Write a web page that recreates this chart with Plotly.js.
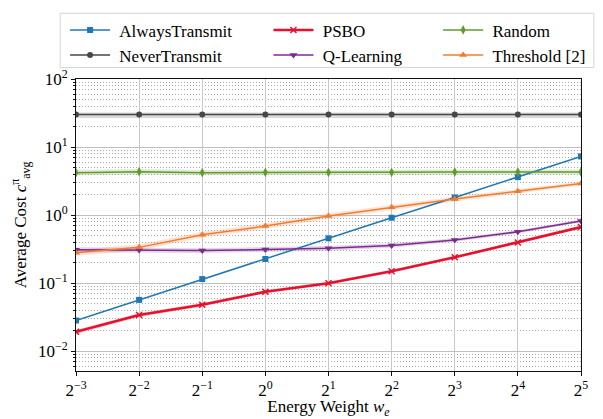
<!DOCTYPE html>
<html>
<head>
<meta charset="utf-8">
<script src="https://cdn.plot.ly/plotly-3.0.1.min.js"></script>
</head>
<body style="margin:0">
<div id="chart"></div>
<script>
// ---- data ----
const energyWeights = [0.125, 0.25, 0.5, 1, 2, 4, 8, 16, 32];
const xTickText = ['2<sup>\u22123</sup>','2<sup>\u22122</sup>','2<sup>\u22121</sup>','2<sup>0</sup>','2<sup>1</sup>','2<sup>2</sup>','2<sup>3</sup>','2<sup>4</sup>','2<sup>5</sup>'];
const yTickVals = [0.01, 0.1, 1, 10, 100];
const yTickText = ['10<sup>\u22122</sup>','10<sup>\u22121</sup>','10<sup>0</sup>','10<sup>1</sup>','10<sup>2</sup>'];

const alwaysTransmit = [0.0283, 0.0569, 0.115, 0.227, 0.456, 0.916, 1.82, 3.62, 7.28];
const neverTransmit  = [30.0, 30.0, 30.0, 30.0, 30.0, 30.0, 30.0, 30.0, 30.0];
const neverLo        = [26.8, 26.8, 26.8, 26.8, 26.8, 26.8, 26.8, 26.8, 26.8];
const neverHi        = [32.2, 32.2, 32.2, 32.2, 32.2, 32.2, 32.2, 32.2, 32.2];
const psbo           = [0.0193, 0.0340, 0.0483, 0.0747, 0.100, 0.150, 0.240, 0.396, 0.668];
const psboLo         = [0.0180, 0.0318, 0.0455, 0.0710, 0.0955, 0.143, 0.230, 0.380, 0.640];
const psboHi         = [0.0206, 0.0362, 0.0510, 0.0785, 0.105, 0.157, 0.250, 0.412, 0.695];
const qLearning      = [0.311, 0.308, 0.301, 0.313, 0.325, 0.359, 0.431, 0.568, 0.822];
const qLo            = [0.285, 0.283, 0.277, 0.288, 0.300, 0.333, 0.405, 0.537, 0.785];
const qHi            = [0.338, 0.334, 0.326, 0.339, 0.351, 0.386, 0.458, 0.600, 0.860];
const random         = [4.20, 4.35, 4.20, 4.25, 4.25, 4.25, 4.30, 4.30, 4.30];
const randomLo       = [3.85, 3.95, 3.85, 3.90, 3.90, 3.90, 3.95, 3.95, 3.95];
const randomHi       = [4.60, 4.75, 4.60, 4.65, 4.65, 4.65, 4.70, 4.70, 4.70];
const threshold      = [0.279, 0.336, 0.514, 0.690, 0.968, 1.30, 1.73, 2.24, 2.91];
const thresholdLo    = [0.252, 0.303, 0.465, 0.625, 0.880, 1.19, 1.59, 2.07, 2.70];
const thresholdHi    = [0.308, 0.372, 0.568, 0.762, 1.065, 1.42, 1.88, 2.42, 3.13];

const C = {
  blue: '#1f77b4', gray: '#474747', red: '#e8112d',
  purple: '#7b2d8e', green: '#5f9b2c', orange: '#f07c30'
};

function band(lo, hi, fill) {
  return [
    {x: energyWeights, y: lo, mode: 'lines', line: {width: 0, color: fill}, showlegend: false, hoverinfo: 'skip'},
    {x: energyWeights, y: hi, mode: 'lines', line: {width: 0, color: fill}, fill: 'tonexty', fillcolor: fill, showlegend: false, hoverinfo: 'skip'}
  ];
}
function series(name, y, color, width, symbol, size, legend) {
  return {x: energyWeights, y: y, name: '\u00a0' + name, mode: 'lines+markers', legend: legend,
    line: {color: color, width: width},
    marker: {color: color, symbol: symbol, size: size, line: {width: symbol === 'x-thin' ? 1.5 : 0, color: color}}};
}

const traces = [].concat(
  band(neverLo, neverHi, 'rgba(71,71,71,0.2)'),
  band(randomLo, randomHi, 'rgba(95,155,44,0.2)'),
  band(thresholdLo, thresholdHi, 'rgba(240,124,48,0.2)'),
  band(qLo, qHi, 'rgba(123,45,142,0.2)'),
  band(psboLo, psboHi, 'rgba(232,17,45,0.2)'),
  [
    series('AlwaysTransmit', alwaysTransmit, C.blue, 1.5, 'square', 6, 'legend'),
    series('NeverTransmit', neverTransmit, C.gray, 1.5, 'circle', 6, 'legend'),
    series('PSBO', psbo, C.red, 2.6, 'x-thin', 6, 'legend2'),
    series('Q-Learning', qLearning, C.purple, 1.5, 'triangle-down', 7, 'legend2'),
    series('Random', random, C.green, 1.5, 'diamond-tall', 7, 'legend3'),
    series('Threshold [2]', threshold, C.orange, 1.5, 'triangle-up', 7, 'legend3')
  ]
);

const FAM = 'Liberation Serif';
function F() { return {family: FAM, size: 17, color: '#000'}; }
function leg(x) {
  return {orientation: 'v', traceorder: 'normal', bgcolor: 'rgba(0,0,0,0)', borderwidth: 0, itemwidth: 40,
    font: F(), yanchor: 'top', xanchor: 'left', y: 1.228, x: x};
}

const minorVals = [];
for (let e = -3; e <= 1; e++) for (let m = 2; m <= 9; m++) minorVals.push(m * Math.pow(10, e));

const layout = {
  width: 603, height: 419,
  margin: {l: 76, r: 18, t: 69, b: 48},
  font: F(),
  xaxis: {
    type: 'log', range: [Math.log10(0.125), Math.log10(32)],
    tickmode: 'array', tickvals: energyWeights, ticktext: xTickText,
    ticks: 'outside', ticklen: 4, tickcolor: '#111',
    tickfont: F(),
    showgrid: true, gridcolor: '#c8c8c8', gridwidth: 1,
    showline: true, linecolor: '#111', linewidth: 1, mirror: true, zeroline: false,
    title: {text: 'Energy Weight <i>w<sub>e</sub></i>', font: F(), standoff: 5}
  },
  yaxis: {
    type: 'log', range: [-2.29, 2],
    tickmode: 'array', tickvals: yTickVals, ticktext: yTickText,
    ticks: 'outside', ticklen: 4, tickcolor: '#111',
    tickfont: F(),
    showgrid: true, gridcolor: '#c0c0c0', gridwidth: 1,
    minor: {tickmode: 'array', tickvals: minorVals, ticks: 'outside', ticklen: 2, tickcolor: '#111',
            showgrid: true, gridcolor: '#a8a8a8', griddash: '1px,2px', gridwidth: 1},
    showline: true, linecolor: '#111', linewidth: 1, mirror: true, zeroline: false,
    title: {text: 'Average Cost <i>c</i><sup>\u03c0</sup><sub>avg</sub>', font: F(), standoff: 6}
  },
  legend: leg(-0.0216),
  legend2: leg(0.3811),
  legend3: leg(0.7171),
  shapes: [{type: 'rect', xref: 'paper', yref: 'paper', x0: -0.0314, x1: 1.0255, y0: 1.0397, y1: 1.2252,
            line: {color: '#d4d4d4', width: 1}, layer: 'above'}],
  showlegend: true
};

const gd = document.getElementById('chart');
const SERIF = "'Liberation Serif', serif";
function fixFonts() {
  gd.querySelectorAll('text').forEach(function (t) {
    if (t.style.getPropertyValue('font-family') !== SERIF || t.style.getPropertyPriority('font-family') !== 'important') {
      t.style.setProperty('font-family', SERIF, 'important');
    }
  });
}
new MutationObserver(fixFonts).observe(gd, {subtree: true, childList: true});
Plotly.newPlot(gd, traces, layout, {staticPlot: true}).then(fixFonts);
</script>
</body>
</html>
